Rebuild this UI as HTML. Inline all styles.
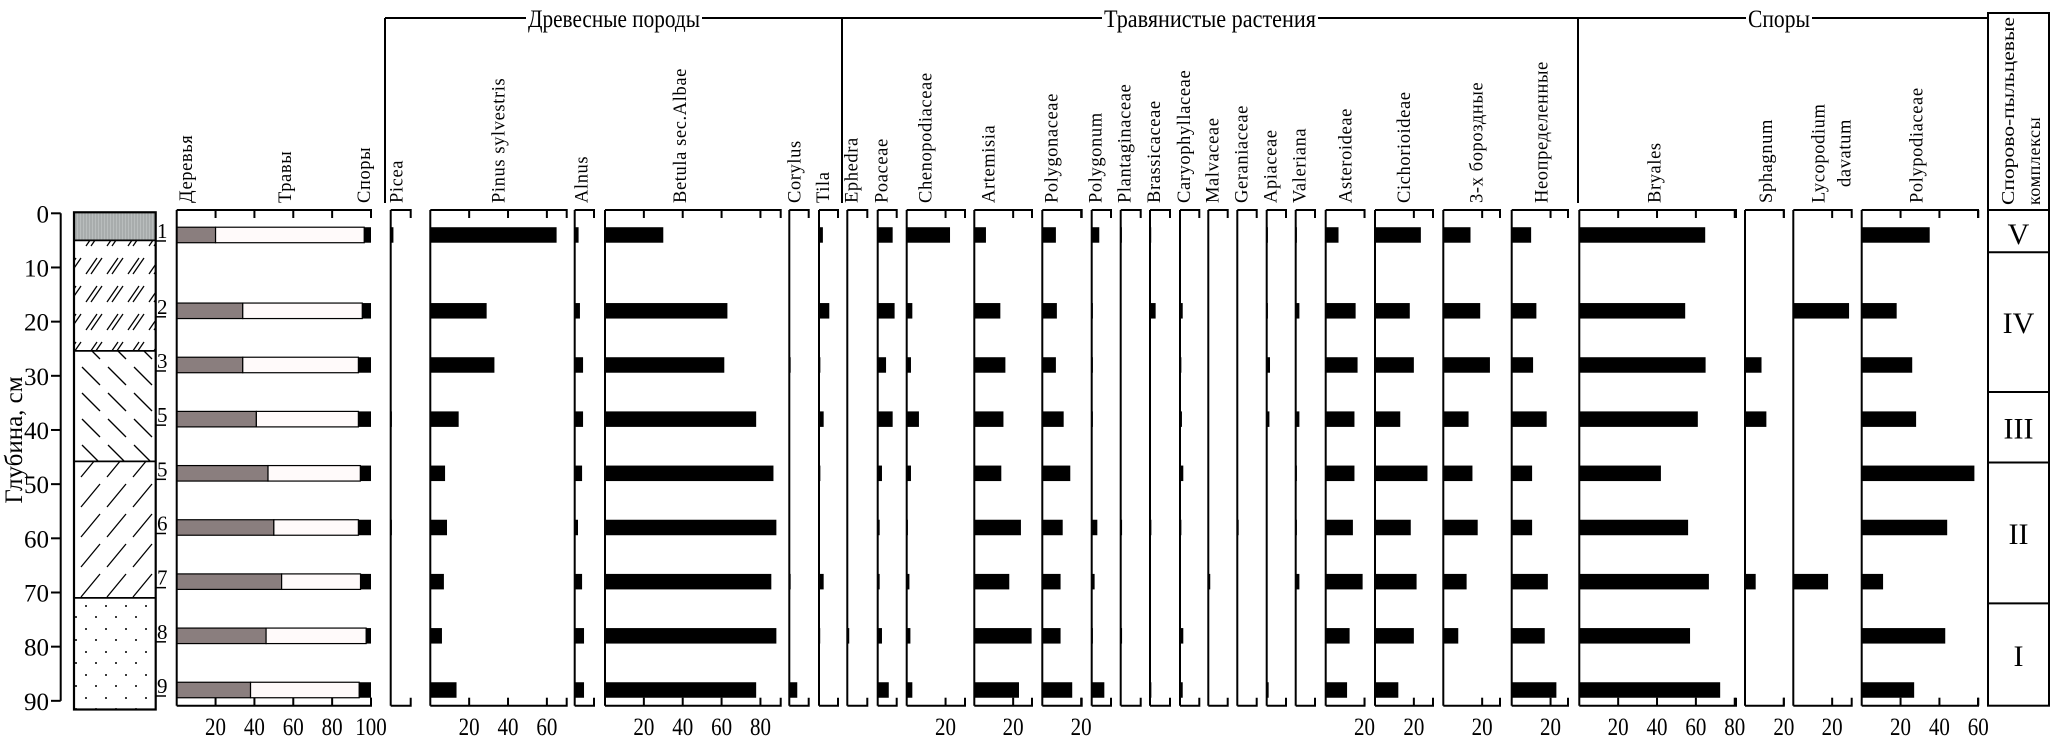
<!DOCTYPE html>
<html><head><meta charset="utf-8"><style>
html,body{margin:0;padding:0;background:#fff;}
svg{display:block;font-family:"Liberation Serif",serif;}
</style></head><body>
<svg id="chart" width="2051" height="740" viewBox="0 0 2051 740" xmlns="http://www.w3.org/2000/svg">
<defs>
<pattern id="pGray" width="3" height="10" patternUnits="userSpaceOnUse"><rect width="3" height="10" fill="#b9bdbd"/><line x1="1" y1="0" x2="1" y2="10" stroke="#8e9494" stroke-width="0.8"/></pattern>
<pattern id="pDouble" width="21" height="28" patternUnits="userSpaceOnUse"><g stroke="#000" stroke-width="1.3"><line x1="2" y1="22" x2="13" y2="6"/><line x1="7" y1="22" x2="18" y2="6"/></g></pattern>
<pattern id="pBack" width="26" height="26" patternUnits="userSpaceOnUse"><line x1="4" y1="3" x2="22" y2="21" stroke="#000" stroke-width="1.3"/></pattern>
<pattern id="pFwd" width="26" height="30" patternUnits="userSpaceOnUse"><line x1="3" y1="27" x2="22" y2="4" stroke="#000" stroke-width="1.3"/></pattern>
<pattern id="pDots" width="20" height="23" patternUnits="userSpaceOnUse"><circle cx="6" cy="8" r="1" fill="#000"/><circle cx="16" cy="19" r="1" fill="#000"/></pattern>
</defs>
</svg>
<script>
// ---- data ----
const sampleDepths = [4, 18, 28, 38, 48, 58, 68, 78, 88];
const sampleLabels = ["1","2","3","5","5","6","7","8","9"];
const depthTicks = [0,10,20,30,40,50,60,70,80,90];
const treesPct = [20, 34, 34, 41, 47, 50, 54, 46, 38];
const treesHerbsPct = [96.5, 95.5, 93.5, 93.5, 94.5, 93.5, 94.6, 97.5, 93.9];
const summaryTicks = [20,40,60,80,100];
const picea = [1.4, 0, 0, 0.5, 0, 0.5, 0, 0, 0];
const pinus = [65, 29, 33, 14.6, 7.6, 8.6, 7, 6, 13.5];
const alnus = [2, 2.7, 4.3, 4.3, 3.8, 1.7, 3.8, 4.8, 4.8];
const betula = [30, 63, 61.4, 77.8, 86.7, 88.2, 85.6, 88.2, 77.8];
const corylus = [0, 0, 0.7, 0, 0, 0, 0.7, 0, 4.1];
const tila = [2, 5.3, 0.7, 2.4, 0.7, 0, 2.4, 0.5, 0];
const ephedra = [0, 0, 0, 0, 0, 0, 0, 1, 0];
const poaceae = [7.7, 8.7, 4.3, 7.7, 2.2, 1, 1, 2.2, 5.7];
const chenopodiaceae = [22.3, 2.9, 2.2, 6.3, 2.2, 0.5, 1.4, 1.9, 2.9];
const artemisia = [6, 13.4, 16, 15, 13.9, 24, 18, 29.5, 23];
const polygonaceae = [7, 7.5, 7, 11, 14.4, 10.5, 9.4, 9.4, 15.4];
const polygonum = [3.9, 0.5, 0.5, 0.5, 0, 2.9, 1.5, 0.5, 6.5];
const plantaginaceae = [0.5, 0, 0, 0, 0, 0.7, 0, 0.7, 0];
const brassicaceae = [0.5, 2.9, 0, 0, 0, 0.7, 0, 0, 0.7];
const caryophyllaceae = [0, 1.4, 0.7, 1, 1.7, 0.7, 0, 1.7, 1.4];
const malvaceae = [0, 0, 0, 0, 0, 0, 1, 0, 0];
const geraniaceae = [0, 0, 0, 0, 0, 0.7, 0, 0, 0];
const apiaceae = [0.5, 0.5, 1.7, 1.4, 0, 0, 0, 0, 1];
const valeriana = [0.5, 1.9, 0, 1.9, 0.5, 0.5, 1.9, 0, 0];
const asteroideae = [6.6, 15.4, 16.4, 14.8, 14.8, 14, 19, 12.3, 11];
const cichorioideae = [23.6, 17.9, 20, 13, 27, 18.4, 21.4, 20, 12];
const tricolpate = [14, 19, 24, 13, 15, 17.7, 12, 7.7, 0];
const undetermined = [10, 12.7, 11, 18, 10.5, 10.5, 18.6, 17, 23];
const bryales = [64.8, 54.5, 65, 61, 42, 56, 66.7, 57, 72.5];
const sphagnum = [0, 0, 8.5, 11, 0, 0, 5.5, 0, 0];
const lycopodium = [0, 28.7, 0, 0, 0, 0, 17.9, 0, 0];
const polypodiaceae = [35, 18, 26, 28, 58, 44, 11, 43, 27];
const zoneLabels = ["V","IV","III","II","I"];
const zoneBounds = [0, 7.2, 33, 46, 72, 91];

// ---- layout ----
const svg = document.getElementById('chart');
const NS = 'http://www.w3.org/2000/svg';
const Y0 = 213.3, PXCM = 5.417, UNIT = 1.943;
const PT = 210, PB = 705.7, BAR_H = 15.5;
const y = d => Y0 + PXCM * d;
function el(tag, attrs, parent) {
  const e = document.createElementNS(NS, tag);
  for (const k in attrs) e.setAttribute(k, attrs[k]);
  (parent || svg).appendChild(e);
  return e;
}
function txt(s, attrs, parent) { const t = el('text', attrs, parent); t.textContent = s; return t; }

// depth axis
const axis = el('g', {});


el('line', {x1: 60.7, y1: y(0), x2: 60.7, y2: y(90), stroke: '#000', 'stroke-width': 2}, axis);
depthTicks.forEach(d => {
  el('line', {x1: 51, y1: y(d), x2: 60.7, y2: y(d), stroke: '#000', 'stroke-width': 2}, axis);
  const t = txt(String(d), {x: 49, y: y(d) + 9, 'font-size': 25, 'text-anchor': 'end'}, axis);
  
  
});
const yt = txt('Глубина, см', {x: 0, y: 0, 'font-size': 25, 'text-anchor': 'middle', transform: 'translate(22,440) rotate(-90)'});



// lithology
const lith = el('g', {});


const layers = [[0, 5, 'pGray'], [5, 25.4, 'pDouble'], [25.4, 45.8, 'pBack'], [45.8, 71, 'pFwd'], [71, 91.6, 'pDots']];
layers.forEach(L => {
  el('rect', {x: 74, y: y(L[0]), width: 81.7, height: y(L[1]) - y(L[0]), fill: 'url(#' + L[2] + ')'}, lith);
  el('line', {x1: 74, y1: y(L[1]), x2: 155.7, y2: y(L[1]), stroke: '#000', 'stroke-width': 1.8}, lith);
});
el('rect', {x: 74, y: y(0) - 1, width: 81.7, height: y(91.6) - y(0) + 1, fill: 'none', stroke: '#000', 'stroke-width': 2.2}, lith);

// sample labels
sampleDepths.forEach((d, i) => {
  const t = txt(sampleLabels[i], {x: 157, y: y(d) + 3, 'font-size': 21}, svg);
  
  
  el('line', {x1: 156, y1: y(d) + 6, x2: 166, y2: y(d) + 6, stroke: '#000', 'stroke-width': 1.5});
});

function frame(g, left, right, ticks) {
  el('line', {x1: left, y1: PT, x2: left, y2: PB, stroke: '#000', 'stroke-width': 2}, g);
  el('polyline', {points: `${left},${PT} ${right},${PT} ${right},${PT + 8}`, fill: 'none', stroke: '#000', 'stroke-width': 2}, g);
  el('polyline', {points: `${left},${PB} ${right},${PB} ${right},${PB - 8}`, fill: 'none', stroke: '#000', 'stroke-width': 2}, g);
  ticks.forEach(v => {
    const x = left + v * UNIT;
    el('line', {x1: x, y1: PT, x2: x, y2: PT + 8, stroke: '#000', 'stroke-width': 2}, g);
    el('line', {x1: x, y1: PB, x2: x, y2: PB - 8, stroke: '#000', 'stroke-width': 2}, g);
    const t = txt(String(v), {x: x, y: 735, 'font-size': 25, 'text-anchor': 'middle', 'textLength': String(v).length * 10.5, 'lengthAdjust': 'spacingAndGlyphs'}, g);
    
    
  });
}
function vlabel(lines, bx, g, size) {
  lines.forEach((s, k) => {
    const t = txt(s, {x: 0, y: 0, 'font-size': size || 18.5, transform: `translate(${bx + k * 18},203) rotate(-90)`, 'letter-spacing': '0.6'}, g);
    
    
  });
}

// summary panel
const sg = el('g', {});


const SL = 176.7;
sampleDepths.forEach((d, i) => {
  const yy = y(d) - BAR_H / 2;
  const r1 = el('rect', {x: SL, y: yy, width: treesPct[i] * UNIT, height: BAR_H, fill: '#8a7e7e', stroke: '#000', 'stroke-width': 1.2}, sg);
  
  
  const r2 = el('rect', {x: SL + treesPct[i] * UNIT, y: yy, width: (treesHerbsPct[i] - treesPct[i]) * UNIT, height: BAR_H, fill: '#fffafa', stroke: '#000', 'stroke-width': 1.2}, sg);
  
  
  const r3 = el('rect', {x: SL + treesHerbsPct[i] * UNIT, y: yy, width: (100 - treesHerbsPct[i]) * UNIT, height: BAR_H, fill: '#000'}, sg);
  
  
});
frame(sg, SL, SL + 100 * UNIT, summaryTicks);
vlabel(['Деревья'], 192, sg); vlabel(['Травы'], 291, sg); vlabel(['Споры'], 370, sg);

// taxa panels
const panels = [
  ['Picea', picea, 390.7, 410.7, []],
  ['Pinus sylvestris', pinus, 430.3, 566.7, [20,40,60]],
  ['Alnus', alnus, 574.7, 594, []],
  ['Betula sec.Albae', betula, 605, 780.7, [20,40,60,80]],
  ['Corylus', corylus, 789.3, 808.7, []],
  ['Tila', tila, 819, 838, []],
  ['Ephedra', ephedra, 847.3, 867.3, []],
  ['Poaceae', poaceae, 877.7, 896.7, []],
  ['Chenopodiaceae', chenopodiaceae, 906.7, 965, [20]],
  ['Artemisia', artemisia, 974.3, 1032, [20]],
  ['Polygonaceae', polygonaceae, 1042.3, 1081.7, [20]],
  ['Polygonum', polygonum, 1091.7, 1111, []],
  ['Plantaginaceae', plantaginaceae, 1120.7, 1140.7, []],
  ['Brassicaceae', brassicaceae, 1150, 1170, []],
  ['Caryophyllaceae', caryophyllaceae, 1180, 1199.3, []],
  ['Malvaceae', malvaceae, 1208.3, 1227.7, []],
  ['Geraniaceae', geraniaceae, 1237.3, 1256.7, []],
  ['Apiaceae', apiaceae, 1266.7, 1286, []],
  ['Valeriana', valeriana, 1295.7, 1315, []],
  ['Asteroideae', asteroideae, 1325.7, 1364.5, [20]],
  ['Cichorioideae', cichorioideae, 1375, 1433, [20]],
  ['3-х бороздные', tricolpate, 1443.3, 1500, [20]],
  ['Неопределенные', undetermined, 1511.7, 1568, [20]],
  ['Bryales', bryales, 1579.3, 1736, [20,40,60,80]],
  ['Sphagnum', sphagnum, 1745, 1783.8, [20]],
  ['Lycopodium|davatum', lycopodium, 1793.3, 1851.7, [20]],
  ['Polypodiaceae', polypodiaceae, 1861.7, 1978, [20,40,60]]
];
const labelOffset = {'Picea': -3, 'Pinus sylvestris': 59, 'Alnus': -2, 'Betula sec.Albae': 66, 'Corylus': -4, 'Tila': -5,
  'Chenopodiaceae': 10, 'Artemisia': 5, 'Polygonaceae': 0, 'Asteroideae': 11, 'Cichorioideae': 20, '3-х бороздные': 24,
  'Неопределенные': 21, 'Bryales': 66, 'Sphagnum': 12, 'Polypodiaceae': 46};
panels.forEach(p => {
  const g = el('g', {});
  
  
  p[1].forEach((v, i) => {
    if (v <= 0) return;
    const r = el('rect', {x: p[2], y: y(sampleDepths[i]) - BAR_H / 2, width: Math.max(v * UNIT, 1.2), height: BAR_H, fill: '#000'}, g);
    
    
  });
  frame(g, p[2], p[3], p[4]);
  const lines = p[0].split('|');
  if (lines.length === 2) {
    const t1 = txt(lines[0], {x: 0, y: 0, 'font-size': 18.5, transform: `translate(${p[2] + 31},203) rotate(-90)`, 'letter-spacing': '0.6'}, g);
    
    
    const t2 = txt(lines[1], {x: 0, y: 0, 'font-size': 18.5, 'text-anchor': 'middle', transform: `translate(${p[2] + 57},${203 - 50}) rotate(-90)`, 'letter-spacing': '0.6'}, g);
    
    
  } else {
    const off = (p[0] in labelOffset) ? labelOffset[p[0]] : -5;
    vlabel(lines, p[2] + 15 + off, g);
  }
});

// group headers
const hg = el('g', {});


[385, 842, 1578].forEach(x => el('line', {x1: x, y1: 18, x2: x, y2: 203, stroke: '#000', 'stroke-width': 2}, hg));
el('line', {x1: 385, y1: 18, x2: 1988, y2: 18, stroke: '#000', 'stroke-width': 2}, hg);
[['Древесные породы', 614, 172], ['Травянистые растения', 1210, 212], ['Споры', 1779, 62]].forEach(h => {
  el('rect', {x: h[1] - h[2] / 2 - 2, y: 4, width: h[2] + 4, height: 28, fill: '#fff'}, hg);
  const t = txt(h[0], {x: h[1], y: 27, 'font-size': 25, 'text-anchor': 'middle', textLength: h[2], lengthAdjust: 'spacingAndGlyphs'}, hg);
  
  
});

// zones
const zg = el('g', {});


el('rect', {x: 1988, y: 13, width: 61, height: PB - 13, fill: 'none', stroke: '#000', 'stroke-width': 2}, zg);
el('line', {x1: 1988, y1: PT, x2: 2049, y2: PT, stroke: '#000', 'stroke-width': 2}, zg);
const z1 = txt('Спорово-пыльцевые', {x: 0, y: 0, 'font-size': 18, transform: 'translate(2014,205) rotate(-90)', textLength: 188, lengthAdjust: 'spacingAndGlyphs'}, zg);


const z2 = txt('комплексы', {x: 0, y: 0, 'font-size': 18, transform: 'translate(2040,205) rotate(-90)', 'letter-spacing': '0.6'}, zg);


zoneLabels.forEach((lab, i) => {
  const a = zoneBounds[i], b = zoneBounds[i + 1];
  if (i > 0) el('line', {x1: 1988, y1: y(a), x2: 2049, y2: y(a), stroke: '#000', 'stroke-width': 2}, zg);
  const t = txt(lab, {x: 2018.5, y: (y(a) + y(Math.min(b, 91))) / 2 + 11, 'font-size': 30, 'text-anchor': 'middle'}, zg);
  
  
});
</script>
</body></html>
